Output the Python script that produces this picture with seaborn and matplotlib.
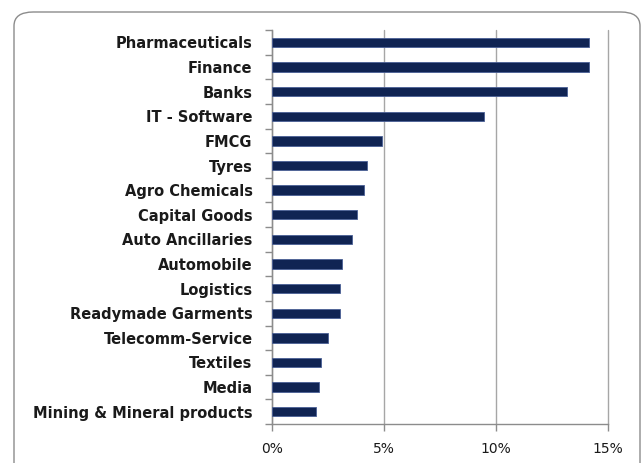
import matplotlib
matplotlib.use("Agg")
import matplotlib.pyplot as plt
import pandas as pd
import seaborn as sns
from matplotlib.patches import FancyBboxPatch
from matplotlib.ticker import FuncFormatter, MultipleLocator

sectors = [
    "Pharmaceuticals", "Finance", "Banks", "IT - Software", "FMCG", "Tyres",
    "Agro Chemicals", "Capital Goods", "Auto Ancillaries", "Automobile",
    "Logistics", "Readymade Garments", "Telecomm-Service", "Textiles",
    "Media", "Mining & Mineral products",
]
weights = [14.17, 14.17, 13.16, 9.48, 4.93, 4.26, 4.11, 3.79, 3.58, 3.12,
           3.04, 3.04, 2.50, 2.18, 2.10, 1.97]
x_ticks = [0, 5, 10, 15]

df = pd.DataFrame({"sector": sectors, "weight": weights})

sns.set_style("white")
plt.rcParams["font.family"] = ["DejaVu Sans"]

fig = plt.figure(figsize=(6.44, 4.63), dpi=100)
ax = fig.add_axes([0.4224, 0.0842, 0.5216, 0.8508])

# rounded frame around the whole chart
frame = FancyBboxPatch((14 / 644, -0.05), 626 / 644, 1 - 12 / 463 + 0.05,
                       boxstyle="round,pad=0,rounding_size=0.03",
                       transform=fig.transFigure, facecolor="none",
                       edgecolor="#8c8c8c", linewidth=1.0, zorder=0)
fig.patches.append(frame)

sns.barplot(data=df, x="weight", y="sector", orient="h", color="#05205e",
            width=0.38, edgecolor="#4a5f96", linewidth=0.6, ax=ax, zorder=3)

ax.set_xlim(0, 15)
ax.set_ylim(len(sectors) - 0.5, -0.5)
ax.set_xticks(x_ticks)
ax.xaxis.set_major_formatter(FuncFormatter(lambda v, p: f"{v:.0f}%"))
ax.grid(axis="x", color="#a6a6a6", linewidth=1.0, zorder=0)
for gl in ax.get_xgridlines():
    gl.set_clip_on(False)
ax.set_axisbelow(True)
ax.set_xlabel("")
ax.set_ylabel("")

for s in ["top", "right"]:
    ax.spines[s].set_visible(False)
for s in ["left", "bottom"]:
    ax.spines[s].set_color("#8c8c8c")
    ax.spines[s].set_linewidth(1.0)

ax.yaxis.set_minor_locator(MultipleLocator(1, offset=0.5))
ax.tick_params(axis="y", which="major", length=0, pad=14, labelsize=10.5)
ax.tick_params(axis="y", which="minor", length=5, color="#8c8c8c", width=1, left=True)
ax.tick_params(axis="x", which="major", length=5, color="#8c8c8c", width=1,
               labelsize=10, pad=8, bottom=True)
for lbl in ax.get_yticklabels():
    lbl.set_fontweight("bold")
    lbl.set_color("#1a1a1a")
for lbl in ax.get_xticklabels():
    lbl.set_color("#1a1a1a")

fig.savefig("out.png", dpi=100)
